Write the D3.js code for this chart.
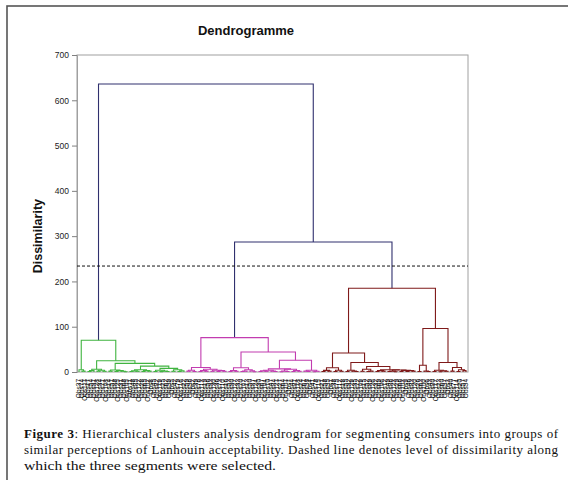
<!DOCTYPE html>
<html>
<head>
<meta charset="utf-8">
<script src="https://cdn.jsdelivr.net/npm/d3@7"></script>
<style>
  body { margin: 0; background: #fff; }
  svg { display: block; }
</style>
</head>
<body>
<svg id="chart" width="568" height="480"></svg>
<script>
// the three consumer segments, written as nested merges:
// "*" = one consumer, the number after ")" = dissimilarity at which the group merges
const greenTree = `(
  (*,(*,*)2)5,
  (
    (((*,*)1,*)3,((*,*)2,(*,*)1.5)4)6,
    (
      ((*,*)2,((*,*)1,(*,(*,*)0.5)1.5)3)4.5,
      (
        (((*,*)1,(*,*)1.5)2.5,((*,*)1,(*,*)2)3)5,
        (
          ((*,*)1,((*,*)0.8,(*,*)1.2)2)4,
          ((*,*)1.5,((*,*)1,*)2.5)5
        )8
      )13
    )19
  )25
)70`;

const magentaTree = `(
  (
    ((*,*)2,(*,*)1)4,
    (((*,*)1,(*,*)2)3,((*,*)1.5,((*,*)1,(*,*)1.5)3)4)6
  )10,
  (
    (
      ((*,*)1,(*,*)1.5)3,
      (((*,*)1,*)2,(*,(*,*)0.5)2.5)5
    )9.5,
    (
      ((((*,*)1,(*,*)1.5)2.5,(*,(*,*)1)2)4,(((*,*)0.5,(*,*)1)2,((*,*)1,(*,*)1.5)3)6)7,
      ((*,(*,*)1)2,((*,*)0.5,*)1.5)4
    )26
  )44
)76`;

const redTree = `(
  (
    (((*,*)1,(*,*)2)3.5,((*,*)1,(*,*)1.5)4)9.5,
    (
      ((*,*)1,(*,(*,*)1)2)4,
      (
        ((*,*)1.5,((*,*)1,*)2)6,
        (
          ((*,*)1,(*,*)2)3,
          (((*,*)1,(*,*)0.5)2,((*,*)1,((*,*)1,(*,*)2)3)3.5)4.5
        )5
      )12
    )21
  )42,
  (
    ((*,*)1,(*,(*,*)1)2)15,
    (
      ((*,*)1,((*,*)0.5,(*,*)1.5)2.5)4,
      ((*,*)2,((*,*)1,(*,*)3)5)10
    )21
  )96
)185`;

const clusterTrees = [greenTree, magentaTree, redTree];
const clusterColors = ["#40b440", "#c23cb0", "#7f1a1a"];
const topColor = "#30306e";
// top merges: all consumers, then segments 2 + 3
const topHeights = [636, 287];
const cutLevel = 234;

// consumer ids in leaf order (left to right)
const leafIds = [37, 74, 111, 17, 54, 91, 128, 34, 71, 108, 14, 51, 88, 125, 31, 68, 105, 11, 48, 85,
  122, 28, 65, 102, 8, 45, 82, 119, 25, 62, 99, 5, 42, 79, 116, 22, 59, 96, 2, 39,
  76, 113, 19, 56, 93, 130, 36, 73, 110, 16, 53, 90, 127, 33, 70, 107, 13, 50, 87, 124,
  30, 67, 104, 10, 47, 84, 121, 27, 64, 101, 7, 44, 81, 118, 24, 61, 98, 4, 41, 78,
  115, 21, 58, 95, 1, 38, 75, 112, 18, 55, 92, 129, 35, 72, 109, 15, 52, 89, 126, 32,
  69, 106, 12, 49, 86, 123, 29, 66, 103, 9, 46, 83, 120, 26, 63, 100, 6, 43, 80, 117,
  23, 60, 97, 3, 40, 77, 114, 20, 57, 94];

const yTicks = [0, 100, 200, 300, 400, 500, 600, 700];

const captionLines = [
  ["Figure 3", ": Hierarchical clusters analysis dendrogram for segmenting consumers into groups of"],
  ["", "similar perceptions of Lanhouin acceptability. Dashed line denotes level of dissimilarity along"],
  ["", "which the three segments were selected."]
];

// ---- parse the merge strings
function parseTree(str) {
  const s = str.replace(/\s+/g, "");
  let i = 0;
  function node() {
    if (s[i] === "*") { i++; return { h: 0 }; }
    i++; // "("
    const children = [node()];
    while (s[i] === ",") { i++; children.push(node()); }
    i++; // ")"
    let num = "";
    while (i < s.length && /[0-9.]/.test(s[i])) num += s[i++];
    return { h: +num, children };
  }
  return node();
}

const clusters = clusterTrees.map((t, k) => {
  const n = parseTree(t);
  n.cluster = k;
  return n;
});
const rootData = {
  h: topHeights[0],
  children: [clusters[0], { h: topHeights[1], children: [clusters[1], clusters[2]] }]
};

const root = d3.hierarchy(rootData);
root.eachBefore(d => {
  if (d.data.cluster !== undefined) d.color = clusterColors[d.data.cluster];
  else if (d.parent && d.parent.color !== topColor) d.color = d.parent.color;
  else d.color = topColor;
});

const leaves = root.leaves();
leaves.forEach((d, i) => d.id = leafIds[i]);

const plot = { left: 77, right: 468, top: 55, bottom: 372 };

const x = d3.scalePoint().domain(leafIds).range([plot.left + 2, plot.right - 2]);
const y = d3.scaleLinear().domain([0, 700]).range([plot.bottom, plot.top]);

root.eachAfter(d => {
  if (d.children) d.x = (d.children[0].x + d.children[d.children.length - 1].x) / 2;
  else d.x = x(d.id);
});

const svg = d3.select("#chart");

// outer figure frame
svg.append("rect").attr("x", 7).attr("y", 6).attr("width", 600).attr("height", 500)
  .attr("fill", "none").attr("stroke", "#555").attr("stroke-width", 1.6);

// title
svg.append("text").attr("x", 246).attr("y", 35).attr("text-anchor", "middle")
  .style("font-family", "Liberation Sans, Arial, sans-serif").style("font-weight", "bold")
  .style("font-size", "13px").attr("fill", "#111").text("Dendrogramme");

// plot frame
svg.append("rect").attr("x", plot.left).attr("y", plot.top)
  .attr("width", plot.right - plot.left).attr("height", plot.bottom - plot.top)
  .attr("fill", "none").attr("stroke", "#a0a0a0").attr("stroke-width", 1);

// y axis
const yAxis = svg.append("g").attr("transform", `translate(${plot.left},0)`)
  .call(d3.axisLeft(y).tickValues(yTicks).tickSize(5).tickPadding(3));
yAxis.select(".domain").attr("stroke", "#a0a0a0");
yAxis.selectAll(".tick line").attr("stroke", "#808080");
yAxis.selectAll("text").style("font-family", "Liberation Sans, Arial, sans-serif")
  .style("font-size", "8.5px").attr("fill", "#222");

svg.append("text").attr("transform", `translate(42,${(y(200) + y(400)) / 2}) rotate(-90)`)
  .attr("text-anchor", "middle")
  .style("font-family", "Liberation Sans, Arial, sans-serif").style("font-weight", "bold")
  .style("font-size", "12.5px").attr("fill", "#111").text("Dissimilarity");

// dendrogram links
const internal = root.descendants().filter(d => d.children);
svg.append("g").selectAll("path").data(internal).join("path")
  .attr("d", d => {
    const a = d.children[0], b = d.children[d.children.length - 1];
    return `M${a.x},${y(a.data.h)}V${y(d.data.h)}H${b.x}V${y(b.data.h)}`;
  })
  .attr("fill", "none").attr("stroke", d => d.color).attr("stroke-width", 1.1);

// cut line
svg.append("line").attr("x1", plot.left).attr("x2", plot.right)
  .attr("y1", y(cutLevel)).attr("y2", y(cutLevel))
  .attr("stroke", "#111").attr("stroke-width", 1).attr("stroke-dasharray", "3,2");

// leaf labels
svg.append("g").selectAll("text").data(leaves).join("text")
  .attr("transform", d => `translate(${d.x},${plot.bottom + 7}) rotate(-90)`)
  .attr("text-anchor", "end").attr("dy", "0.35em")
  .style("font-family", "Liberation Sans, Arial, sans-serif").style("font-size", "6.5px")
  .attr("fill", "#000").text(d => "Obs" + d.id);

// caption
const capWidths = [534, 534, 252];
const cap = svg.append("g").style("font-family", "Liberation Serif, Times New Roman, serif")
  .style("font-size", "13px").attr("fill", "#111");
captionLines.forEach((ln, i) => {
  const t = cap.append("text").attr("x", 24).attr("y", 438 + i * 16)
    .attr("textLength", capWidths[i]).attr("lengthAdjust", i < 2 ? "spacing" : "spacingAndGlyphs");
  if (ln[0]) t.append("tspan").style("font-weight", "bold").text(ln[0]);
  t.append("tspan").text(ln[1]);
});
</script>
</body>
</html>
